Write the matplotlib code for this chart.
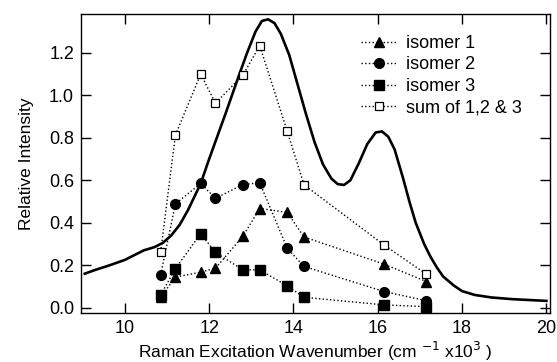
import numpy as np
import matplotlib
matplotlib.use('Agg')
import matplotlib.pyplot as plt

plt.rcParams['font.family'] = ['Liberation Sans', 'DejaVu Sans']

# excitation wavenumbers (cm-1 x10^3)
exc = [10.85, 11.2, 11.8, 12.15, 12.8, 13.2, 13.85, 14.25, 16.15, 17.15]
isomer1 = [0.049, 0.144, 0.167, 0.186, 0.336, 0.467, 0.449, 0.333, 0.205, 0.123]
isomer2 = [0.155, 0.489, 0.585, 0.515, 0.580, 0.588, 0.281, 0.194, 0.076, 0.033]
isomer3 = [0.060, 0.184, 0.348, 0.260, 0.178, 0.178, 0.103, 0.049, 0.013, 0.005]
total = [0.262, 0.813, 1.100, 0.963, 1.095, 1.234, 0.832, 0.579, 0.295, 0.158]

# absorption spectrum (solid curve)
spec_x = [9.05, 9.3, 9.6, 10.0, 10.25, 10.45, 10.7, 10.9, 11.1, 11.3, 11.5, 11.8,
          12.0, 12.2, 12.4, 12.7, 12.9, 13.1, 13.25, 13.4, 13.55, 13.7, 13.9,
          14.1, 14.3, 14.5, 14.7, 14.9, 15.05, 15.2, 15.35, 15.55, 15.75, 15.95,
          16.1, 16.25, 16.4, 16.6, 16.75, 16.9, 17.1, 17.25, 17.4, 17.55, 17.8,
          18.0, 18.3, 18.7, 19.2, 19.6, 20.0]
spec_y = [0.160, 0.178, 0.197, 0.225, 0.250, 0.270, 0.285, 0.305, 0.340, 0.390,
          0.460, 0.585, 0.700, 0.810, 0.920, 1.090, 1.200, 1.300, 1.350, 1.358,
          1.340, 1.290, 1.190, 1.050, 0.910, 0.780, 0.675, 0.608, 0.582, 0.578,
          0.600, 0.680, 0.770, 0.825, 0.830, 0.805, 0.745, 0.610, 0.500, 0.400,
          0.300, 0.240, 0.190, 0.147, 0.105, 0.078, 0.060, 0.048, 0.040, 0.036,
          0.032]

fig = plt.figure(figsize=(5.57, 3.62), dpi=100)
ax = fig.add_axes([0.1454, 0.1354, 0.8416, 0.8259])

ax.plot(spec_x, spec_y, color='black', linewidth=1.9)

dot = dict(color='black', linestyle=':', linewidth=1.0)
ax.plot(exc, isomer1, marker='^', markersize=7, label='isomer 1', **dot)
ax.plot(exc, isomer2, marker='o', markersize=7, label='isomer 2', **dot)
ax.plot(exc, isomer3, marker='s', markersize=6.5, label='isomer 3', **dot)
ax.plot(exc, total, marker='s', markersize=6, markerfacecolor='white',
        markeredgewidth=0.9, label='sum of 1,2 & 3', **dot)

ax.set_xlim(8.96, 20.08)
ax.set_ylim(-0.025, 1.383)
ax.set_xticks([10, 12, 14, 16, 18, 20])
ax.set_yticks([0.0, 0.2, 0.4, 0.6, 0.8, 1.0, 1.2])
ax.tick_params(direction='in', top=True, right=True, length=7, width=1,
               labelsize=13, pad=5)
for s in ax.spines.values():
    s.set_linewidth(1.0)

ax.set_xlabel('Raman Excitation Wavenumber (cm $^{-1}$ x10$^{3}$ )', fontsize=12.5, labelpad=2)
ax.set_ylabel('Relative Intensity', fontsize=12.5, labelpad=11)

ax.legend(loc='upper left', bbox_to_anchor=(0.597, 0.93), frameon=False,
          fontsize=13, handlelength=2.0, handletextpad=0.5, labelspacing=0.25,
          borderaxespad=0, borderpad=0)

fig.savefig('out.png', dpi=100)
